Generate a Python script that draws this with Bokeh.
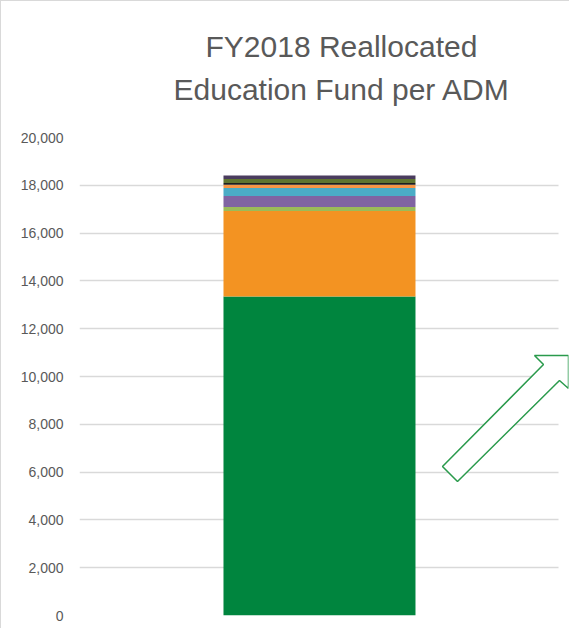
from bokeh.plotting import figure
from bokeh.models import PolyAnnotation, NumeralTickFormatter, FixedTicker, Title
from bokeh.transform import dodge
from bokeh.embed import file_html
from bokeh.resources import INLINE

# ---- data ----
years = ["FY2018"]
segments = ["base", "s2", "s3", "s4", "s5", "s6", "s7", "s8", "s9"]
values = {
    "base": [13350],
    "s2": [3570],
    "s3": [170],
    "s4": [460],
    "s5": [335],
    "s6": [142],
    "s7": [67],
    "s8": [167],
    "s9": [150],
}
colors = ["#00853E", "#F39322", "#9BBB59", "#8064A2", "#4BACC6",
          "#F79646", "#1E1E1E", "#5F7530", "#4A3C5E"]
y_ticks = [0, 2000, 4000, 6000, 8000, 10000, 12000, 14000, 16000, 18000, 20000]
title_lines = ["FY2018  Reallocated", "Education Fund per ADM"]

data = {"years": years}
data.update(values)

p = figure(x_range=years, y_range=(0, 20000), width=569, height=628,
           output_backend="svg", toolbar_location=None,
           min_border_left=78, min_border_right=2, min_border_bottom=14,
           min_border_top=136)
p.styles = {"border-left": "1px solid #d9d9d9", "border-top": "1px solid #d9d9d9"}

p.x_range.range_padding = 0.009375
p.x_range.range_padding_units = "absolute"

p.vbar_stack(segments, x=dodge("years", -0.0094, range=p.x_range), width=0.4,
             color=colors, source=data, line_width=0)

# title line 1 = the plot's own title (outermost); spacer then line 2 in p.above
p.title.text = title_lines[0]
p.title.align = "left"
p.title.offset = 126
p.title.standoff = 16
p.title.text_font = "Liberation Sans"
p.title.text_font_size = "30px"
p.title.text_font_style = "normal"
p.title.text_color = "#595959"
spacer = Title(text=" ", standoff=0, text_font_size="26.5px")
p.add_layout(spacer, "above")
line2 = Title(text=title_lines[1], align="left", offset=94, standoff=0,
              text_font="Liberation Sans", text_font_size="30px",
              text_font_style="normal", text_color="#595959")
p.add_layout(line2, "above")

p.xaxis.visible = False
p.yaxis.ticker = FixedTicker(ticks=y_ticks)
p.yaxis.formatter = NumeralTickFormatter(format="0,0")
p.yaxis.axis_line_color = None
p.yaxis.major_tick_line_color = None
p.yaxis.minor_tick_line_color = None
p.yaxis.major_tick_out = 0
p.yaxis.major_tick_in = 0
p.yaxis.major_label_text_font = "Liberation Sans"
p.yaxis.major_label_text_font_size = "14px"
p.yaxis.major_label_text_color = "#595959"
p.yaxis.major_label_standoff = 16

p.xgrid.grid_line_color = None
p.ygrid.grid_line_color = "#d9d9d9"
p.ygrid.grid_line_width = 1.5
p.ygrid.cross_bounds = (-0.0094, 0.9886)
p.outline_line_color = None

arrow = PolyAnnotation(xs=[440, 455, 557, 566, 566, 532, 541],
                       ys=[464, 479, 378, 386, 353, 353, 362],
                       xs_units="canvas", ys_units="canvas",
                       fill_color="white", fill_alpha=1.0,
                       line_color="#2A9A4C", line_alpha=1.0, line_width=1.5)
p.add_layout(arrow)

open("out.html", "w").write(file_html(p, INLINE))
